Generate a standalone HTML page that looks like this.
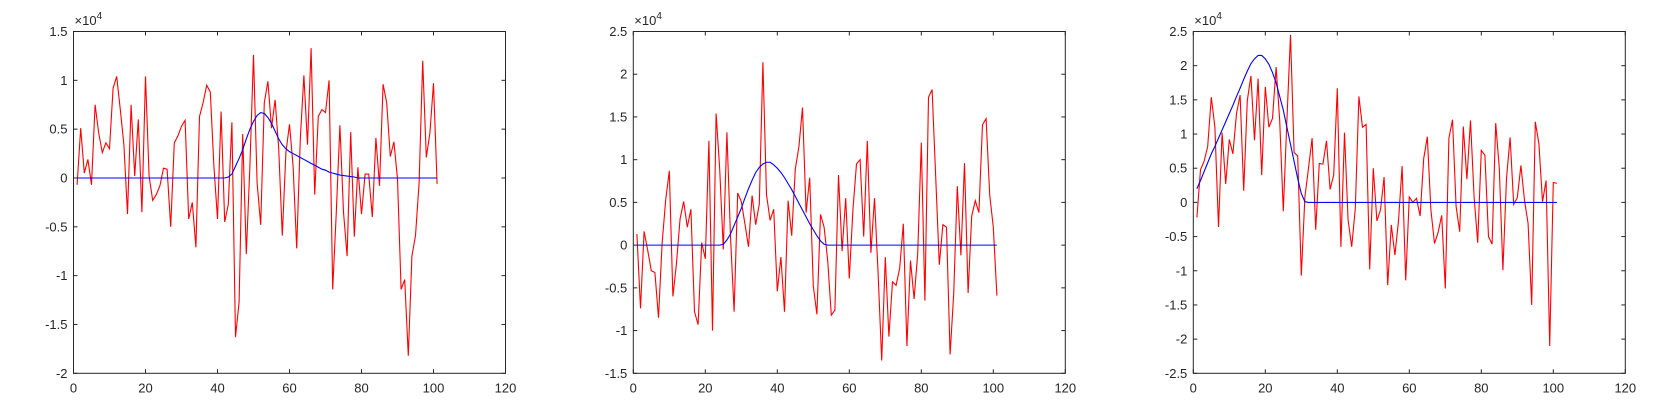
<!DOCTYPE html>
<html><head><meta charset="utf-8">
<style>
html,body{margin:0;padding:0;background:#fff;}
svg{display:block;font-family:"Liberation Sans",sans-serif;}
</style></head>
<body>
<svg id="fig" width="1680" height="420" viewBox="0 0 1680 420" xmlns="http://www.w3.org/2000/svg"></svg>
<script>
const xTicks = [0,20,40,60,80,100,120];
const yTicks1 = [1.5,1,0.5,0,-0.5,-1,-1.5,-2];
const yTicks2 = [2.5,2,1.5,1,0.5,0,-0.5,-1,-1.5];
const yTicks3 = [2.5,2,1.5,1,0.5,0,-0.5,-1,-1.5,-2,-2.5];

const red1 = [-0.07,0.51,0.05,0.19,-0.07,0.75,0.46,0.26,0.36,0.3,0.92,1.04,0.7,0.34,-0.37,0.75,0.02,0.6,-0.35,1.04,0.02,-0.23,-0.17,-0.08,0.1,0.09,-0.5,0.36,0.43,0.53,0.59,-0.42,-0.25,-0.71,0.63,0.77,0.95,0.88,0.12,-0.42,0.68,-0.45,-0.27,0.57,-1.63,-1.27,0.45,-0.78,0.12,1.26,-0.05,-0.48,0.77,0.99,0.51,0.8,0.3,-0.59,0.26,0.55,0.12,-0.72,0.4,1.05,0.34,1.33,-0.17,0.63,0.7,0.67,1.0,-1.14,-0.35,0.54,-0.35,-0.8,0.47,-0.6,0.11,-0.37,0.04,0.04,-0.4,0.41,-0.08,0.96,0.77,0.22,0.37,-0.01,-1.14,-1.04,-1.82,-0.8,-0.59,-0.05,1.2,0.21,0.46,0.97,-0.06];
const blue1 = [0,0,0,0,0,0,0,0,0,0,0,0,0,0,0,0,0,0,0,0,0,0,0,0,0,0,0,0,0,0,0,0,0,0,0,0,0,0,0,0,0,0,0.01,0.04,0.12,0.2,0.29,0.4,0.5,0.58,0.64,0.67,0.66,0.62,0.56,0.48,0.4,0.34,0.3,0.27,0.25,0.23,0.21,0.19,0.17,0.15,0.13,0.11,0.09,0.08,0.06,0.05,0.04,0.03,0.025,0.02,0.015,0.01,0,0,0,0,0,0,0,0,0,0,0,0,0,0,0,0,0,0,0,0,0,0,0];

const red2 = [0.13,-0.74,0.16,-0.06,-0.3,-0.32,-0.85,0.02,0.53,0.87,-0.6,-0.21,0.31,0.51,0.21,0.42,-0.78,-0.93,0.03,-0.16,1.22,-1.0,1.54,0.89,-0.05,1.32,0.1,-0.78,0.61,0.51,0.25,-0.02,0.58,0.24,0.48,2.14,0.59,0.29,0.42,-0.54,-0.14,-0.78,0.52,0.11,0.89,1.15,1.61,0.38,0.79,-0.48,-0.81,0.36,0.21,-0.18,-0.82,-0.76,0.82,-0.07,0.55,-0.39,0.41,0.95,1.0,0.1,1.22,-0.09,0.55,-0.33,-1.35,-0.14,-1.07,-0.43,-0.47,-0.27,0.25,-1.18,-0.18,-0.63,-0.1,1.2,-0.65,1.73,1.82,0.8,-0.23,0.24,0.21,-1.28,-0.57,0.69,-0.12,0.96,-0.56,0.34,0.52,0.38,1.41,1.48,0.59,0.21,-0.59];
const blue2 = [0,0,0,0,0,0,0,0,0,0,0,0,0,0,0,0,0,0,0,0,0,0,0,0,0.01,0.06,0.13,0.23,0.33,0.43,0.55,0.66,0.76,0.85,0.91,0.95,0.97,0.97,0.94,0.9,0.85,0.79,0.72,0.65,0.57,0.49,0.41,0.33,0.25,0.18,0.11,0.05,0.01,0,0,0,0,0,0,0,0,0,0,0,0,0,0,0,0,0,0,0,0,0,0,0,0,0,0,0,0,0,0,0,0,0,0,0,0,0,0,0,0,0,0,0,0,0,0,0,0];

const red3 = [-0.22,0.48,0.6,0.82,1.54,1.1,-0.36,1.02,0.27,0.92,0.71,1.3,1.57,0.17,1.49,1.85,0.91,1.81,0.4,1.69,1.1,1.23,1.98,1.2,-0.13,1.2,2.45,0.73,0.68,-1.07,0.08,0.5,0.94,-0.4,0.57,0.56,0.9,0.19,0.4,1.67,-0.65,1.02,-0.26,-0.65,-0.09,1.55,1.1,1.14,-0.98,0.5,-0.27,-0.11,0.37,-1.21,-0.33,-0.77,-0.27,0.53,-1.14,0.08,0,0.06,-0.2,0.64,0.96,-0.11,-0.6,-0.44,-0.19,-1.26,0.94,1.21,-0.06,-0.43,1.11,0.34,1.2,0.08,-0.59,0.76,0.69,-0.5,-0.61,1.16,0.5,-0.99,0.35,0.95,-0.03,0.07,0.54,0.03,-0.31,-1.5,1.18,0.86,0.01,0.32,-2.1,0.29,0.28];
const blue3 = [0.2,0.32,0.45,0.58,0.71,0.82,0.94,1.06,1.18,1.3,1.42,1.55,1.67,1.8,1.92,2.03,2.1,2.15,2.15,2.1,2.02,1.9,1.75,1.55,1.35,1.1,0.85,0.6,0.35,0.13,0.01,0,0,0,0,0,0,0,0,0,0,0,0,0,0,0,0,0,0,0,0,0,0,0,0,0,0,0,0,0,0,0,0,0,0,0,0,0,0,0,0,0,0,0,0,0,0,0,0,0,0,0,0,0,0,0,0,0,0,0,0,0,0,0,0,0,0,0,0,0,0];

const NS = "http://www.w3.org/2000/svg";
const svg = document.getElementById('fig');
function mk(tag, attrs, parent){
  const e = document.createElementNS(NS, tag);
  for (const k in attrs) e.setAttribute(k, attrs[k]);
  (parent||svg).appendChild(e);
  return e;
}
const TOP = 31.5, BOT = 373.3, W = 432;

function panel(idx, left, yTicks, red, blue){
  const ymax = yTicks[0], ymin = yTicks[yTicks.length-1];
  const right = left + W;
  const sx = v => left + v/120*W;
  const sy = v => TOP + (ymax - v)/(ymax - ymin)*(BOT - TOP);
  const g = mk('g', {});
  
  
  const box = mk('rect', {x:left, y:TOP, width:W, height:BOT-TOP, fill:'#fff', stroke:'#262626', 'stroke-width':1}, g);
  
  
  xTicks.forEach(t => {
    const x = sx(t);
    mk('line', {x1:x, y1:BOT, x2:x, y2:BOT-4, stroke:'#262626'}, g);
    mk('line', {x1:x, y1:TOP, x2:x, y2:TOP+4, stroke:'#262626'}, g);
    const tx = mk('text', {x:x, y:BOT+19, 'text-anchor':'middle', 'font-size':13, fill:'#262626'}, g);
    tx.textContent = t;
    
    
  });
  yTicks.forEach(t => {
    const y = sy(t);
    mk('line', {x1:left, y1:y, x2:left+4, y2:y, stroke:'#262626'}, g);
    mk('line', {x1:right, y1:y, x2:right-4, y2:y, stroke:'#262626'}, g);
    const ty = mk('text', {x:left-6, y:y+4.5, 'text-anchor':'end', 'font-size':13, fill:'#262626'}, g);
    ty.textContent = t;
    
    
  });
  const ex = mk('text', {x:left+1, y:25, 'font-size':13, fill:'#262626'}, g);
  ex.innerHTML = '×10<tspan dy="-6" font-size="10">4</tspan>';
  
  
  const rp = red.map((v,i) => sx(i+1).toFixed(2)+','+sy(v).toFixed(2)).join(' ');
  const rl = mk('polyline', {points:rp, fill:'none', stroke:'#ff0000', 'stroke-width':1.1}, g);
  
  
  const bp = blue.map((v,i) => sx(i+1).toFixed(2)+','+sy(v).toFixed(2)).join(' ');
  const bl = mk('polyline', {points:bp, fill:'none', stroke:'#0000ff', 'stroke-width':1.1}, g);
  
  
}
panel(1, 73.5, yTicks1, red1, blue1);
panel(2, 633.3, yTicks2, red2, blue2);
panel(3, 1193.3, yTicks3, red3, blue3);
</script>
</body></html>
